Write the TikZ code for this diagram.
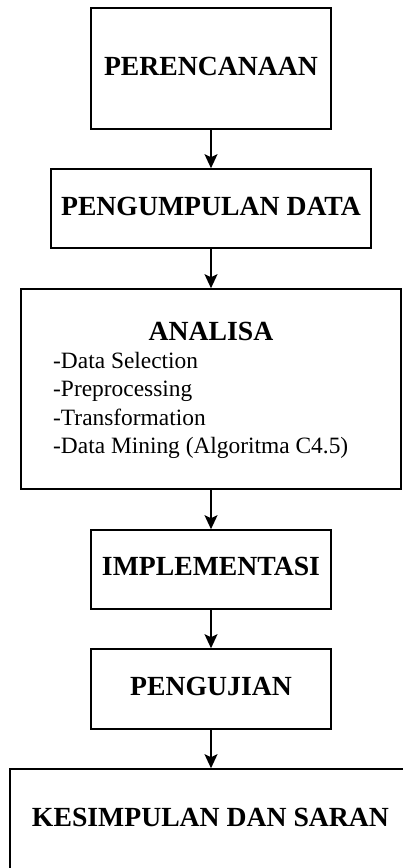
\documentclass[tikz,border=0pt]{standalone}
\usepackage{fontspec}
\setmainfont{Liberation Serif}
\usetikzlibrary{arrows.meta}
\begin{document}
\begin{tikzpicture}[x=1pt,y=-1pt,
  boxstyle/.style={draw=black,line width=1.6pt,rectangle,inner sep=0pt,fill=white},
  titletext/.style={anchor=base,inner sep=0pt,font=\fontsize{27.7}{32}\selectfont\bfseries},
  listtext/.style={anchor=base west,inner sep=0pt,font=\fontsize{23.4}{28}\selectfont},
  arr/.style={line width=1.5pt,-{Stealth[length=14pt,width=13pt,inset=3pt]}}]
\useasboundingbox (0,0) rectangle (403,868);
\clip (0,0) rectangle (403,868);
% boxes
\node[boxstyle,minimum width=240pt,minimum height=121pt] (b1) at (211,68.5) {};
\node[boxstyle,minimum width=320pt,minimum height=79pt] (b2) at (211,208.5) {};
\node[boxstyle,minimum width=380pt,minimum height=200pt] (b3) at (211,389) {};
\node[boxstyle,minimum width=240pt,minimum height=79pt] (b4) at (211,569.5) {};
\node[boxstyle,minimum width=240pt,minimum height=80pt] (b5) at (211,689) {};
\node[boxstyle,minimum width=400pt,minimum height=140pt] (b6) at (210,839) {};
% texts
\node[titletext] (t1) at (211,75) {PERENCANAAN};
\node[titletext] (t2) at (211,215) {PENGUMPULAN DATA};
\node[titletext] (t3) at (211,340) {ANALISA};
\node[listtext] (l1) at (53,368) {-Data Selection};
\node[listtext] (l2) at (53,396.5) {-Preprocessing};
\node[listtext] (l3) at (53,425) {-Transformation};
\node[listtext] (l4) at (53,453.5) {-Data Mining (Algoritma C4.5)};
\node[titletext] (t4) at (211,575.5) {IMPLEMENTASI};
\node[titletext] (t5) at (211,695) {PENGUJIAN};
\node[titletext] (t6) at (210.5,826) {KESIMPULAN DAN SARAN};
% arrows
\draw[arr] (b1.south) -- (b2.north);
\draw[arr] (b2.south) -- (b3.north);
\draw[arr] (b3.south) -- (b4.north);
\draw[arr] (b4.south) -- (b5.north);
\draw[arr] (b5.south) -- (b6.north -| b5.south);
\end{tikzpicture}
\end{document}
